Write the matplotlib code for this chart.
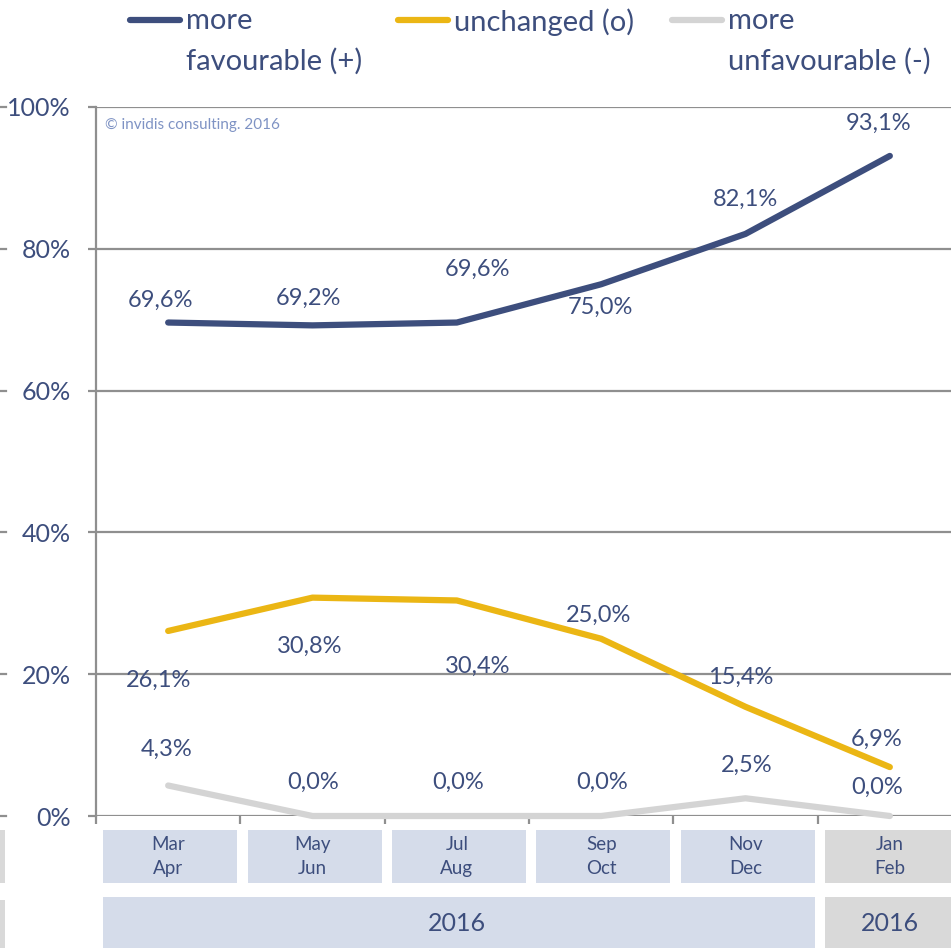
import matplotlib
matplotlib.use("Agg")
import matplotlib.pyplot as plt
from matplotlib.patches import Rectangle
import matplotlib.transforms as mtransforms

plt.rcParams['font.family'] = ['Lato', 'DejaVu Sans']

# ---- data ----
categories = ["Mar\nApr", "May\nJun", "Jul\nAug", "Sep\nOct", "Nov\nDec", "Jan\nFeb"]
years = ["2016", "2016"]
more_favourable = [69.6, 69.2, 69.6, 75.0, 82.1, 93.1]
unchanged = [26.1, 30.8, 30.4, 25.0, 15.4, 6.9]
more_unfavourable = [4.3, 0.0, 0.0, 0.0, 2.5, 0.0]
series_names = ["more\nfavourable (+)", "unchanged (o)", "more\nunfavourable (-)"]
yticks = [0, 20, 40, 60, 80, 100]

# ---- styles ----
C_BLUE = "#3D4E7D"
C_YEL = "#EBB614"
C_GRAY = "#D4D4D4"
C_TXT = "#3D4E7D"
C_BOX = "#D5DCEA"
C_BOX2 = "#D9D9D9"
C_GRID = "#8F8F8F"

# label offsets in pixels (dx, dy) from each point
off_blue = [(-8, 22), (-4, 27), (21, 53), (-1, -23), (0, 35), (-11, 33)]
off_yel = [(-10, -49), (-3, -49), (21, -66), (-3, 23), (-5, 29), (-13, 28)]
off_gray = [(-2, 36), (1, 34), (1, 34), (1, 34), (1, 33), (-13, 29)]

W, H = 951, 948
fig = plt.figure(figsize=(W / 100, H / 100), dpi=100)
ax_left, ax_right, ax_top, ax_bot = 96, 962, 107, 816
ax = fig.add_axes([ax_left / W, 1 - ax_bot / H, (ax_right - ax_left) / W, (ax_bot - ax_top) / H])
ax.set_xlim(-0.5, 5.5)
ax.set_ylim(0, 100)

x = list(range(len(categories)))
series = [(more_favourable, C_BLUE, off_blue), (unchanged, C_YEL, off_yel), (more_unfavourable, C_GRAY, off_gray)]

for yt in yticks:
    ax.axhline(yt, color=C_GRID, lw=1.6, zorder=1)

for vals, col, offs in series:
    ax.plot(x, vals, color=col, lw=4.5, solid_capstyle='round', zorder=3, clip_on=False)
for vals, col, offs in series:
    for xi, v, (dx, dy) in zip(x, vals, offs):
        ax.annotate(f"{v:.1f}%".replace('.', ','), (xi, v), xytext=(dx * 0.72, dy * 0.72),
                    textcoords='offset points', ha='center', va='center', fontsize=17,
                    color=C_TXT, zorder=4)

ax.set_yticks(yticks)
ax.set_yticklabels([f"{t}%" for t in yticks], fontsize=18, color=C_TXT)
ax.tick_params(axis='y', length=6, width=1.6, color=C_GRID, pad=12)
ax.set_xticks([i - 0.5 for i in range(len(categories) + 1)])
ax.set_xticklabels([])
ax.tick_params(axis='x', length=6, width=1.6, color=C_GRID)
for s in ['top', 'right', 'bottom']:
    ax.spines[s].set_visible(False)
ax.spines['left'].set_color(C_GRID)
ax.spines['left'].set_linewidth(1.6)

ax.text(0.01, 0.985, "\u00a9 invidis consulting. 2016", transform=ax.transAxes,
        fontsize=11, color="#7F93C4", ha='left', va='top')

# category boxes below axis
tr = mtransforms.blended_transform_factory(ax.transData, ax.transAxes)
px = 1.0 / (ax_bot - ax_top)
b1_top, b1_bot = -(830 - ax_bot) * px, -(883 - ax_bot) * px
b2_top, b2_bot = -(897 - ax_bot) * px, -(950 - ax_bot) * px
for i, lab in enumerate(categories):
    col = C_BOX2 if i == len(categories) - 1 else C_BOX
    ax.add_patch(Rectangle((i - 0.45, b1_bot), 0.93, b1_top - b1_bot, transform=tr,
                           facecolor=col, edgecolor='none', clip_on=False))
    ax.text(i, (b1_top + b1_bot) / 2, lab, transform=tr, ha='center', va='center',
            fontsize=13.5, color=C_TXT, linespacing=1.5)
ax.add_patch(Rectangle((-0.45, b2_bot), 4.93 - 0.0, b2_top - b2_bot, transform=tr,
                       facecolor=C_BOX, edgecolor='none', clip_on=False))
ax.text(2.0, (b2_top + b2_bot) / 2, years[0], transform=tr, ha='center', va='center',
        fontsize=18, color=C_TXT)
ax.add_patch(Rectangle((4.55, b2_bot), 1.0, b2_top - b2_bot, transform=tr,
                       facecolor=C_BOX2, edgecolor='none', clip_on=False))
ax.text(5.0, (b2_top + b2_bot) / 2, years[1], transform=tr, ha='center', va='center',
        fontsize=18, color=C_TXT)

# clipped remnants at left edge
for (y0, y1) in [(830, 883), (900, 948)]:
    fig.patches.append(Rectangle((0, 1 - y1 / H), 5 / W, (y1 - y0) / H, transform=fig.transFigure,
                                 facecolor=C_BOX2, edgecolor='none'))
for yt in yticks:
    ypix = ax_bot - yt / 100 * (ax_bot - ax_top)
    fig.lines.append(plt.Line2D([0, 6 / W], [1 - ypix / H] * 2, transform=fig.transFigure,
                                color=C_GRID, lw=1.6))

# legend
leg_x = [130, 398, 672]
leg_cols = [C_BLUE, C_YEL, C_GRAY]
for lx, col, name in zip(leg_x, leg_cols, series_names):
    fig.lines.append(plt.Line2D([lx / W, (lx + 50) / W], [1 - 20 / H] * 2, transform=fig.transFigure,
                                color=col, lw=4.5, solid_capstyle='round'))
    fig.text((lx + 56) / W, 1 - 8 / H, name, ha='left', va='top', fontsize=21, color=C_TXT,
             linespacing=1.65)

fig.savefig("out.png", dpi=100)
